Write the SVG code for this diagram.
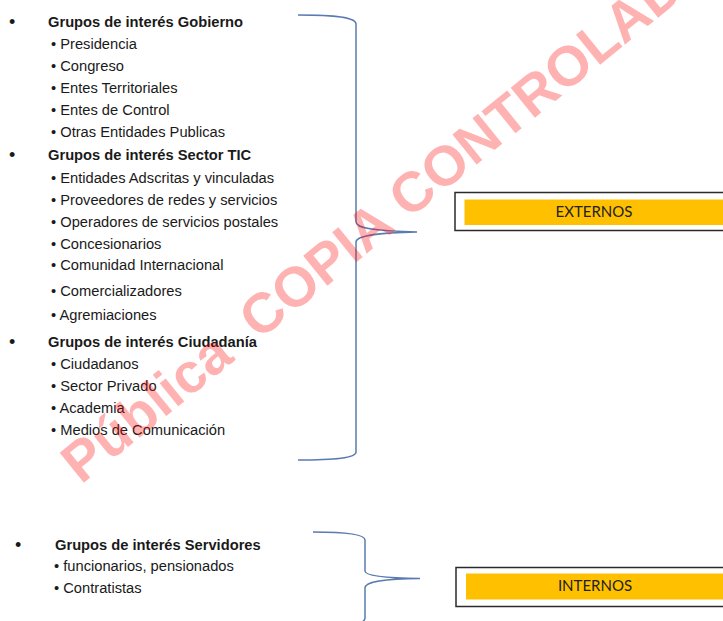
<svg xmlns="http://www.w3.org/2000/svg" width="723" height="621" viewBox="0 0 723 621">
<style>
.t{font-family:"Liberation Sans",Arial,sans-serif;font-size:14.7px;fill:#1a1a1a}
.h{font-weight:bold}
.b{font-family:"Liberation Sans",Arial,sans-serif;font-size:18px;fill:#1a1a1a}
.br{fill:none;stroke:#5a7bb0;stroke-width:1.5}
.box{fill:#ffffff;stroke:#2b2b2b;stroke-width:1.5}
.fill{fill:#ffc000}
.lbl{font-family:Lato,"Open Sans",sans-serif;font-size:15px;fill:#222;text-anchor:middle}
.wm{font-family:"Liberation Sans",Arial,sans-serif;font-weight:bold;font-size:56px;fill:#ff0000;fill-opacity:0.3}
</style>
<rect width="723" height="621" fill="#ffffff"/>

<g id="gobierno">
<text class="b" x="9" y="27.5">•</text>
<text class="t h" x="48" y="26.5">Grupos de interés Gobierno</text>
<text class="t" x="51" y="48.5">• Presidencia</text>
<text class="t" x="51" y="70.5">• Congreso</text>
<text class="t" x="51" y="92.5">• Entes Territoriales</text>
<text class="t" x="51" y="114.5">• Entes de Control</text>
<text class="t" x="51" y="136.5">• Otras Entidades Publicas</text>
</g>

<g id="sector-tic">
<text class="b" x="9" y="161">•</text>
<text class="t h" x="48" y="160">Grupos de interés Sector TIC</text>
<text class="t" x="51" y="183">• Entidades Adscritas y vinculadas</text>
<text class="t" x="51" y="205">• Proveedores de redes y servicios</text>
<text class="t" x="51" y="227">• Operadores de servicios postales</text>
<text class="t" x="51" y="248.5">• Concesionarios</text>
<text class="t" x="51" y="270">• Comunidad Internacional</text>
<text class="t" x="51" y="296">• Comercializadores</text>
<text class="t" x="51" y="320">• Agremiaciones</text>
</g>

<g id="ciudadania">
<text class="b" x="9" y="347.5">•</text>
<text class="t h" x="48" y="346.5">Grupos de interés Ciudadanía</text>
<text class="t" x="51" y="368.5">• Ciudadanos</text>
<text class="t" x="51" y="390.5">• Sector Privado</text>
<text class="t" x="51" y="413">• Academia</text>
<text class="t" x="51" y="435">• Medios de Comunicación</text>
</g>

<g id="servidores">
<text class="b" x="15" y="551">•</text>
<text class="t h" x="55" y="550">Grupos de interés Servidores</text>
<text class="t" x="54" y="571">• funcionarios, pensionados</text>
<text class="t" x="54" y="593">• Contratistas</text>
</g>

<g id="externos">
<rect class="box" x="455" y="192.5" width="280" height="38"/>
<rect class="fill" x="464.5" y="199.5" width="270" height="25.5"/>
<text class="lbl" x="594" y="216.5">EXTERNOS</text>
</g>

<g id="internos">
<rect class="box" x="456" y="567.5" width="280" height="39"/>
<rect class="fill" x="466" y="573.5" width="270" height="26"/>
<text class="lbl" x="595" y="591">INTERNOS</text>
</g>

<g id="connectors">
<path class="br" d="M298,15 C335,15 356,17 356,24 L356,222 C356,228 372,231 417,232 C372,233 356,236 356,242 L356,452 C356,458 335,460 298,460"/>
<path class="br" d="M313,532 C345,532 365,534 365,540 L365,571 C365,575 380,578 420,578.5 C380,579 365,582 365,588 L365,618 C365,623 355,625 340,625"/>
</g>

<text class="wm" transform="translate(81,485) rotate(-39)">Pública<tspan dx="30">COPIA</tspan><tspan dx="15">CONTROLADA</tspan></text>
</svg>
